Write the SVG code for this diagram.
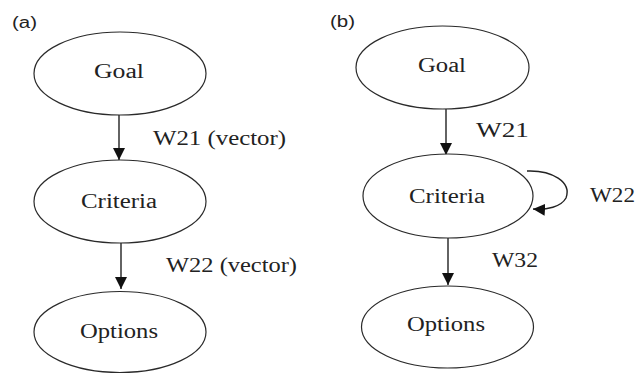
<svg xmlns="http://www.w3.org/2000/svg" width="637" height="374" viewBox="0 0 637 374">
  <style>
    .node { fill: #ffffff; stroke: #2a2a2a; stroke-width: 1.2; }
    .lbl { font-family: "Liberation Serif", "Times New Roman", serif; font-size: 20px; fill: #222; }
    .tag { font-family: "Liberation Sans", Arial, sans-serif; font-size: 16px; fill: #222; }
    .edge { fill: none; stroke: #222; stroke-width: 1.4; }
  </style>
  <defs>
    <marker id="arrow" markerUnits="userSpaceOnUse" markerWidth="12" markerHeight="12" viewBox="0 0 10 10" refX="10" refY="5" orient="auto">
      <path d="M0,0 L10,5 L0,10 Z" fill="#111"/>
    </marker>
  </defs>
  <rect width="637" height="374" fill="#ffffff"/>

  <!-- panel labels -->
  <text class="tag" x="12" y="28" textLength="25" lengthAdjust="spacingAndGlyphs">(a)</text>
  <text class="tag" x="330" y="27" textLength="25" lengthAdjust="spacingAndGlyphs">(b)</text>

  <!-- connectors -->
  <g id="connectors">
    <line class="edge" x1="119" y1="115" x2="119" y2="160" marker-end="url(#arrow)"/>
    <line class="edge" x1="121" y1="243" x2="121" y2="289" marker-end="url(#arrow)"/>
    <line class="edge" x1="446" y1="109" x2="446" y2="155" marker-end="url(#arrow)"/>
    <line class="edge" x1="448" y1="238" x2="448" y2="285" marker-end="url(#arrow)"/>
    <path class="edge" d="M527,171 C552,170 572,182 566,198 C561,207 547,210 533,209" marker-end="url(#arrow)"/>
    <text class="lbl" x="153" y="145" textLength="133" lengthAdjust="spacingAndGlyphs">W21 (vector)</text>
    <text class="lbl" x="166" y="272" textLength="131" lengthAdjust="spacingAndGlyphs">W22 (vector)</text>
    <text class="lbl" x="476" y="137" textLength="53" lengthAdjust="spacingAndGlyphs">W21</text>
    <text class="lbl" x="590" y="202" textLength="45" lengthAdjust="spacingAndGlyphs">W22</text>
    <text class="lbl" x="492" y="267" textLength="46" lengthAdjust="spacingAndGlyphs">W32</text>
  </g>

  <!-- panel (a) nodes -->
  <g id="a-goal">
    <ellipse class="node" cx="120" cy="73.5" rx="86" ry="41.5"/>
    <text class="lbl" x="94" y="78" textLength="50" lengthAdjust="spacingAndGlyphs">Goal</text>
  </g>
  <g id="a-criteria">
    <ellipse class="node" cx="120" cy="201.5" rx="86" ry="41.5"/>
    <text class="lbl" x="81" y="208" textLength="76" lengthAdjust="spacingAndGlyphs">Criteria</text>
  </g>
  <g id="a-options">
    <ellipse class="node" cx="120" cy="332" rx="86" ry="40.5"/>
    <text class="lbl" x="80" y="338" textLength="78" lengthAdjust="spacingAndGlyphs">Options</text>
  </g>

  <!-- panel (b) nodes -->
  <g id="b-goal">
    <ellipse class="node" cx="442.5" cy="67.5" rx="86.5" ry="41.5"/>
    <text class="lbl" x="418" y="72" textLength="48" lengthAdjust="spacingAndGlyphs">Goal</text>
  </g>
  <g id="b-criteria">
    <ellipse class="node" cx="448" cy="196" rx="85" ry="42"/>
    <text class="lbl" x="409" y="203" textLength="76" lengthAdjust="spacingAndGlyphs">Criteria</text>
  </g>
  <g id="b-options">
    <ellipse class="node" cx="447.5" cy="327" rx="86" ry="41"/>
    <text class="lbl" x="407" y="331" textLength="78" lengthAdjust="spacingAndGlyphs">Options</text>
  </g>
</svg>
